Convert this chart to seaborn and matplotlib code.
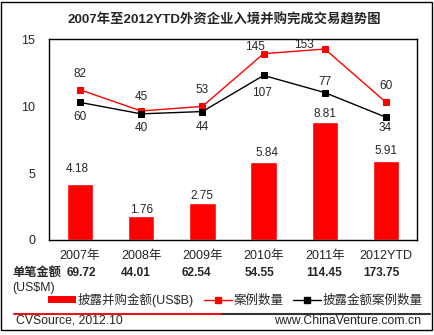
import matplotlib
matplotlib.use("Agg")
import matplotlib.pyplot as plt
from matplotlib.lines import Line2D
from matplotlib.patches import Patch, Rectangle
import numpy as np
import pandas as pd
import seaborn as sns

# ---- data ----
years = ["2007年", "2008年", "2009年", "2010年", "2011年", "2012YTD"]
deal_value_usd_b = [4.18, 1.76, 2.75, 5.84, 8.81, 5.91]
deal_count = [82, 45, 53, 145, 153, 60]
disclosed_count = [60, 40, 44, 107, 77, 34]
avg_deal_usd_m = [69.72, 44.01, 62.54, 54.55, 114.45, 173.75]
y_ticks = [0, 5, 10, 15]

title = "2007年至2012YTD外资企业入境并购完成交易趋势图"
legend_labels = ["披露并购金额(US$B)", "案例数量", "披露金额案例数量"]

# label placement (pixel offsets from each mark)
bar_label_offsets = [(-3, 15), (0, 6), (0, 7), (3, 9), (0, 8), (0, 10)]
count_label_offsets = [(0, 16), (0, 14), (0, 16), (-9, 7), (-21, 4), (0, 16)]
disclosed_label_offsets = [(0, -15), (0, -14), (0, -15), (-2, -18), (0, 11), (-1, -11)]
avg_label_dx = [2, -5, -6, -4, -1, -5]

df = pd.DataFrame({
    "year": years,
    "value": deal_value_usd_b,
    "count": deal_count,
    "disclosed": disclosed_count,
})

sns.set_style("white")
plt.rcParams["font.family"] = ["Liberation Sans", "Noto Sans CJK SC"]

W, H = 435, 335
fig = plt.figure(figsize=(W / 100, H / 100), dpi=100)
ax = fig.add_axes([49.3 / W, 95 / H, 367.4 / W, 200.7 / H])

RED = "#FF0000"
sns.barplot(data=df, x="year", y="value", color=RED, saturation=1,
            width=0.43, ax=ax)

ax2 = ax.twinx()
sns.pointplot(data=df, x="year", y="count", color=RED, markers="s",
              linestyles="-", markersize=4, linewidth=1, errorbar=None, ax=ax2)
sns.pointplot(data=df, x="year", y="disclosed", color="black", markers="s",
              linestyles="-", markersize=4, linewidth=1, errorbar=None, ax=ax2)
ax2.set_ylim(-180, 170)
ax2.axis("off")

ax.set_xlim(-0.5, 5.5)
ax.set_ylim(0, 15)
ax.set_yticks(y_ticks)
ax.set_xlabel("")
ax.set_ylabel("")
ax.tick_params(axis="both", length=0, labelsize=9)
ax.tick_params(axis="x", pad=7)
ax.tick_params(axis="y", pad=10)
for s in ax.spines.values():
    s.set_visible(True)
    s.set_color("black")
    s.set_linewidth(1)
ax.grid(False)

# value labels
for i, v in enumerate(deal_value_usd_b):
    ax.annotate(f"{v:.2f}", xy=(i, v), xytext=bar_label_offsets[i],
                textcoords="offset pixels", ha="center", va="center", fontsize=8.5)
for i, v in enumerate(deal_count):
    ax2.annotate(str(v), xy=(i, v), xytext=count_label_offsets[i],
                 textcoords="offset pixels", ha="center", va="center", fontsize=8.5)
for i, v in enumerate(disclosed_count):
    ax2.annotate(str(v), xy=(i, v), xytext=disclosed_label_offsets[i],
                 textcoords="offset pixels", ha="center", va="center", fontsize=8.5)

# title
fig.text(224.5 / W, 1 - 20 / H, title, ha="center", va="center",
         fontsize=9.6, fontweight="bold")

# average deal size row
row_y = 1 - 273.3 / H
fig.text(12 / W, row_y, "单笔金额", ha="left", va="center",
         fontsize=8.8, fontweight="bold")
for i, v in enumerate(avg_deal_usd_m):
    ax.annotate(f"{v:.2f}", xy=(i, row_y), xycoords=("data", "figure fraction"),
                xytext=(avg_label_dx[i], 0), textcoords="offset pixels",
                ha="center", va="center", fontsize=8.6, fontweight="bold")
fig.text(12 / W, 1 - 288.3 / H, "(US$M)", ha="left", va="center", fontsize=8.8)

# legend row
handles = [
    Patch(facecolor=RED, edgecolor="none"),
    Line2D([], [], color=RED, marker="s", markersize=4, linewidth=1),
    Line2D([], [], color="black", marker="s", markersize=4, linewidth=1),
]
fig.legend(handles, legend_labels, loc="center left",
           bbox_to_anchor=(48.5 / W, 1 - 299.5 / H), ncol=3, frameon=False,
           fontsize=9, handlelength=2.2, handleheight=0.5, handletextpad=0.15,
           columnspacing=0.8, borderpad=0, borderaxespad=0)

# footer separator and source lines
sep_y = 1 - 313.7 / H
fig.add_artist(Line2D([14 / W, 222 / W], [sep_y, sep_y], color="#E8141B",
                      linewidth=1.5, transform=fig.transFigure))
fig.add_artist(Line2D([222 / W, 430 / W], [sep_y, sep_y], color="#333333",
                      linewidth=1.5, transform=fig.transFigure))
fig.text(16 / W, 1 - 320.7 / H, "CVSource, 2012.10", ha="left", va="center",
         fontsize=8.8)
fig.text(421 / W, 1 - 320.7 / H, "www.ChinaVenture.com.cn", ha="right",
         va="center", fontsize=8.8)

# outer border
fig.add_artist(Rectangle((1.5 / W, 5.5 / H), 430.5 / W, 328 / H, fill=False,
                         edgecolor="black", linewidth=1, transform=fig.transFigure))

fig.savefig("out.png", dpi=100)
